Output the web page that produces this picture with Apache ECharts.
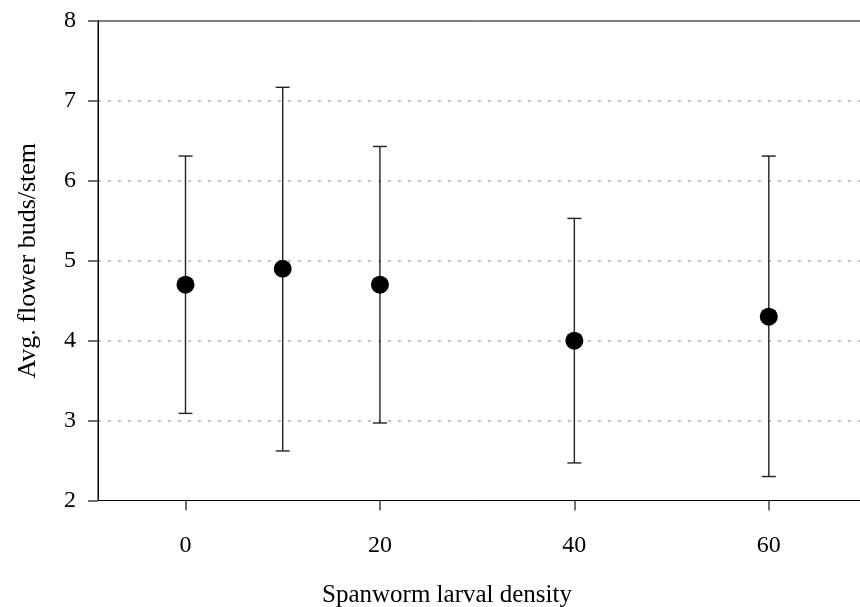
<!DOCTYPE html>
<html>
<head>
<meta charset="utf-8">
<script src="https://cdn.jsdelivr.net/npm/echarts@6/dist/echarts.min.js"></script>
<style>html,body{margin:0;padding:0;background:#fff}#c{width:860px;height:607px}</style>
</head>
<body>
<div id="c"></div>
<script>
const densities = [0, 10, 20, 40, 60];
const means = [4.7, 4.9, 4.7, 4.0, 4.3];
const lowers = [3.09, 2.62, 2.97, 2.47, 2.30];
const uppers = [6.31, 7.17, 6.43, 5.53, 6.31];
const xTickValues = [0, 20, 40, 60];
const xTitle = 'Spanworm larval density';
const yTitle = 'Avg. flower buds/stem';

const font = 'Liberation Serif, Times New Roman, serif';
const chart = echarts.init(document.getElementById('c'), null, {renderer: 'canvas'});
const errData = densities.map((d, i) => [d, lowers[i], uppers[i]]);
const ptData = densities.map((d, i) => [d, means[i]]);

chart.setOption({
  animation: false,
  backgroundColor: '#fff',
  grid: {left: 98, top: 21, right: -6, bottom: 106.5, containLabel: false, outerBoundsMode: 'none',
         show: true, borderColor: '#000', borderWidth: 1, backgroundColor: 'transparent'},
  xAxis: {
    type: 'value', min: -9, max: 70,
    name: xTitle, nameLocation: 'middle', nameGap: 82,
    nameTextStyle: {fontFamily: font, fontSize: 25, color: '#000', padding: [0, 70, 0, 0]},
    axisLine: {show: true, onZero: false, lineStyle: {color: '#000', width: 1}},
    axisTick: {show: true, inside: false, length: 10, customValues: xTickValues, lineStyle: {color: '#444', width: 1.5}},
    axisLabel: {customValues: xTickValues, margin: 33, fontFamily: font, fontSize: 24, color: '#000'},
    splitLine: {show: false}
  },
  yAxis: {
    type: 'value', min: 2, max: 8, interval: 1,
    name: yTitle, nameLocation: 'middle', nameGap: 57, nameRotate: 90,
    nameTextStyle: {fontFamily: font, fontSize: 26, color: '#000'},
    axisLine: {show: true, onZero: false, lineStyle: {color: '#000', width: 1}},
    axisTick: {show: true, inside: false, length: 10, lineStyle: {color: '#444', width: 1.5}},
    axisLabel: {margin: 22, fontFamily: font, fontSize: 24, color: '#000'},
    splitLine: {show: true, showMinLine: false, showMaxLine: false, lineStyle: {color: '#c4c4c4', width: 2, type: [3, 7]}}
  },
  series: [
    {
      type: 'custom',
      data: errData,
      z: 2,
      renderItem: function (params, api) {
        const x = api.value(0);
        const lo = api.coord([x, api.value(1)]);
        const hi = api.coord([x, api.value(2)]);
        const hw = 7;
        const style = {stroke: '#222', lineWidth: 1.4};
        return {
          type: 'group',
          children: [
            {type: 'line', shape: {x1: lo[0], y1: lo[1], x2: hi[0], y2: hi[1]}, style: style},
            {type: 'line', shape: {x1: lo[0] - hw, y1: lo[1], x2: lo[0] + hw, y2: lo[1]}, style: style},
            {type: 'line', shape: {x1: hi[0] - hw, y1: hi[1], x2: hi[0] + hw, y2: hi[1]}, style: style}
          ]
        };
      }
    },
    {
      type: 'scatter',
      data: ptData,
      z: 3,
      symbol: 'circle',
      symbolSize: 18,
      itemStyle: {color: '#000', opacity: 1}
    }
  ]
});
</script>
</body>
</html>
